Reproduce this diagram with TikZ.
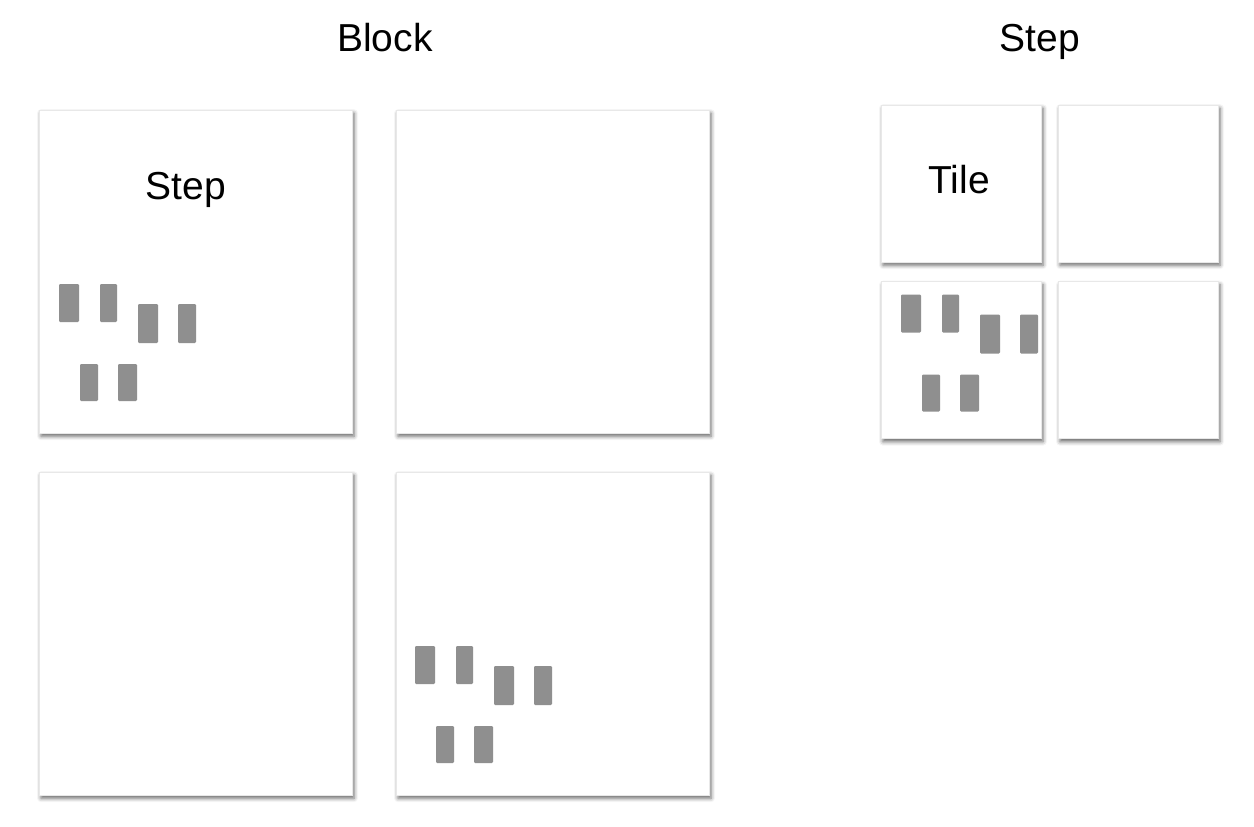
\documentclass[tikz,border=0pt]{standalone}
\usepackage{fontspec}
\setmainfont{Liberation Sans}
\usetikzlibrary{shadows.blur}
\colorlet{bargray}{black!44}
\colorlet{edgegray}{black!9}

\begin{document}
\begin{tikzpicture}[
    x=0.5pt, y=-0.5pt,
    bigbox/.style={
        rectangle, inner sep=0pt, outer sep=0pt,
        minimum width=156.5pt, minimum height=161.5pt,
        draw=edgegray, fill=white, line width=0.5pt,
        blur shadow={shadow xshift=1pt, shadow yshift=-1.6pt,
                     shadow blur radius=2pt, shadow opacity=60}
    },
    tilebox/.style={
        bigbox, minimum width=80pt, minimum height=78.5pt
    },
    bar/.style={
        fill=bargray, rounded corners=0.6pt
    },
    label/.style={
        font=\fontsize{19.5}{23}\selectfont, anchor=base
    }
]
\useasboundingbox (0,0) rectangle (1254,826);

% ===== Titles =====
\node[label] (blockTitle) at (385,51) {Block};
\node[label] (stepTitle)  at (1040,51) {Step};

% ===== Block: four steps =====
\node[bigbox] (b1) at (195.5,271.5) {};
\node[bigbox] (b2) at (552.5,271.5) {};
\node[bigbox] (b3) at (195.5,633.5) {};
\node[bigbox] (b4) at (552.5,633.5) {};
\node[label] (stepLabel) at (186,199) {Step};

% ===== Step: four tiles =====
\node[tilebox] (t1) at (961,183.5) {};
\node[tilebox] (t2) at (1138,183.5) {};
\node[tilebox] (t3) at (961,360) {};
\node[tilebox] (t4) at (1138,360) {};
\node[label] (tileLabel) at (959,193) {Tile};

% ===== Threads =====
\foreach \tgt/\dx/\dy in {b1/20/174, b4/19/174, t3/20/13} {
    \begin{scope}[shift={(\tgt.north west)}, shift={(\dx,\dy)}]
        \foreach \a/\b/\c/\d in {0/0/20/38, 41/0/58/38, 79/20/99/59,
                                 119/20/137/59, 21/80/39/117, 59/80/78/117}
            \fill[bar] (\a,\b) rectangle (\c,\d);
    \end{scope}
}

\end{tikzpicture}
\end{document}
